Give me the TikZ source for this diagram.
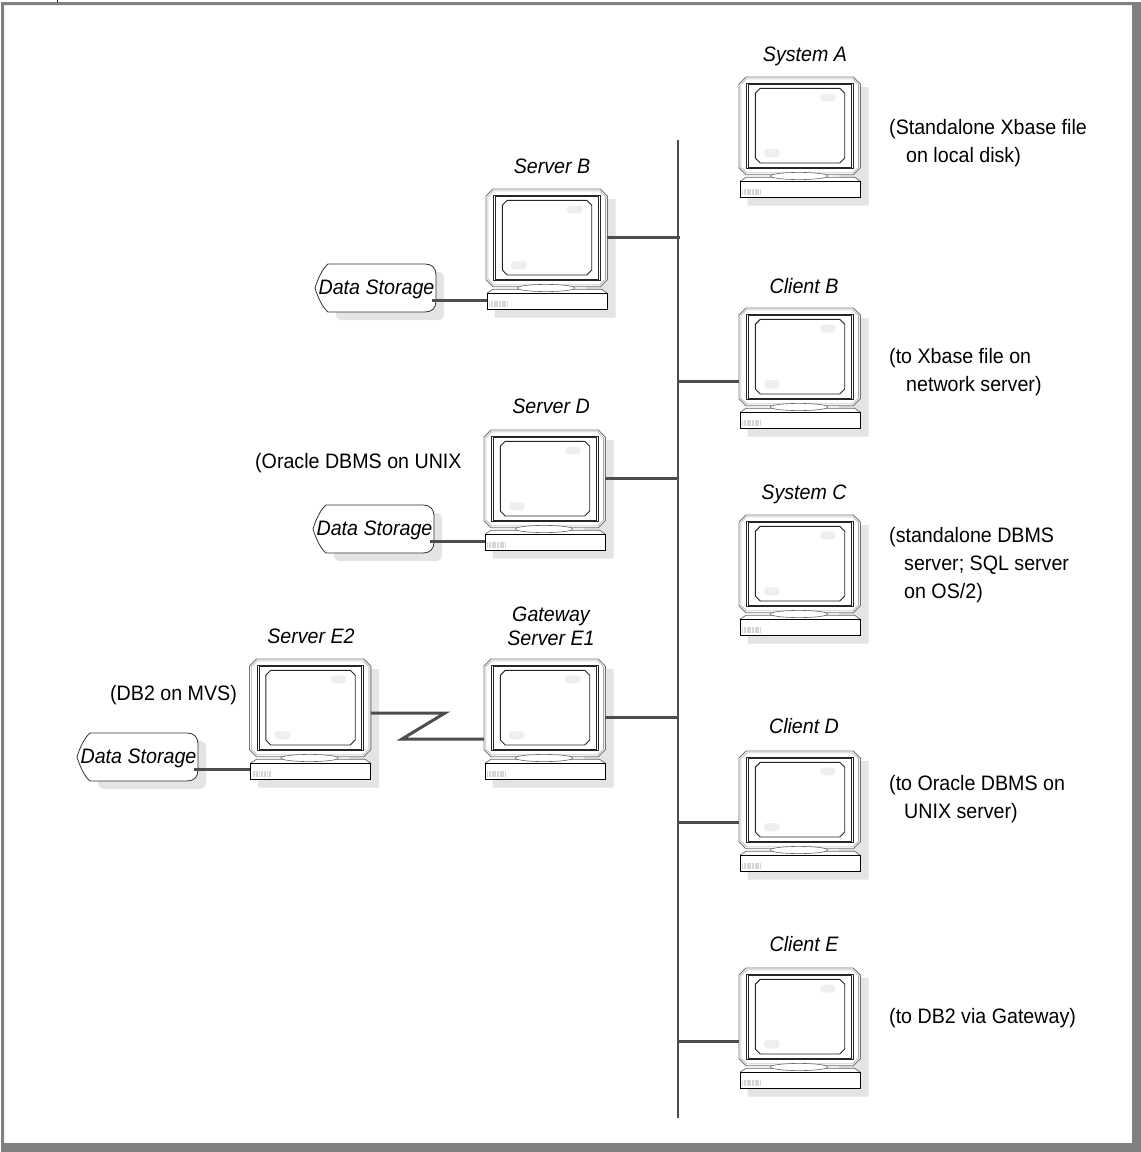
\documentclass[tikz,border=0pt]{standalone}
\usepackage{fontspec}
\setmainfont[FakeStretch=0.94]{Liberation Sans}
\definecolor{shadowc}{HTML}{E4E4E4}
\definecolor{pillc}{HTML}{EFEFEF}
\definecolor{linkc}{HTML}{4D4D4D}
\definecolor{framec}{HTML}{808080}
\tikzset{
  txt/.style={font=\fontsize{20.9}{28}\selectfont,inner sep=0pt,anchor=north west,align=left},
  namelabel/.style={font=\fontsize{20.9}{24}\selectfont\itshape,inner sep=0pt,anchor=base,align=center},
  linkline/.style={draw=linkc,line width=3pt},
  busline/.style={draw=linkc,line width=2.6pt},
  hit/.style={inner sep=0pt,minimum width=121pt,minimum height=98pt},
  hitbase/.style={inner sep=0pt,minimum width=120pt,minimum height=16pt},
  hitstore/.style={inner sep=0pt,minimum width=121pt,minimum height=48pt}
}
% name, x, y of the top left corner of the monitor
\newcommand{\computer}[3]{%
\begin{scope}[shift={(#2,#3)}]
  \fill[shadowc] (100,10) -- (129.7,10) -- (129.7,128.7) -- (8.7,128.7) -- (8.7,105) -- (100,105) -- cycle;
  \draw[black!55,fill=white,line width=.9pt] (7,0) -- (114.3,0) -- (121.3,7) -- (121.3,90.7) -- (114.3,97.7) -- (7,97.7) -- (0,90.7) -- (0,7) -- cycle;
  \draw[black!35,line width=.6pt] (7.7,1.8) -- (113.6,1.8) -- (119.5,7.7) -- (119.5,90) -- (113.6,95.9) -- (7.7,95.9) -- (1.8,90) -- (1.8,7.7) -- cycle;
  \draw[black!85,line width=.9pt] (7.7,6) rectangle (114,91.7);
  \draw[black!85,line width=.9pt] (9.7,7.7) rectangle (112.3,90);
  \draw[black!85,line width=.9pt] (21.3,11.3) -- (100.7,11.3) -- (105.7,16.3) -- (105.7,81) -- (100.7,86) -- (21.3,86) -- (16.3,81) -- (16.3,16.3) -- cycle;
  \fill[pillc,rounded corners=3.5pt] (81,16.7) rectangle (96.7,24.3);
  \fill[pillc,rounded corners=3.5pt] (25,72) rectangle (40.7,80.3);
  \draw[black!60,fill=white,line width=.7pt] (1,104.3) -- (7,100.3) -- (115.7,100.3) -- (121.3,104.3);
  \draw[black!60,fill=white,line width=.6pt] (60,99) ellipse [x radius=28.7,y radius=3.6];
  \draw[black,fill=white,line width=.9pt] (1,104.3) rectangle (121.3,120.3);
  \foreach \i in {3,4.6,...,21}{\fill[black!16] (\i,112) rectangle ++(1.1,6);}
  \node[hit] (#1) at (60.6,49) {};
  \node[hitbase] (#1base) at (61,112.3) {};
\end{scope}}
% name, x, y of the left tip of the storage shape
\newcommand{\storage}[3]{%
\begin{scope}[shift={(#2,#3)}]
  \fill[shadowc,rounded corners=5pt] (21,-16) -- (129,-16) -- (129,32) -- (21,32) -- cycle;
  \draw[black!80,fill=white,line width=.8pt] (13,-24) -- (110,-24) .. controls (117,-24) and (121,-20) .. (121,-13) -- (121,13) .. controls (121,20) and (117,24) .. (110,24) -- (13,24) .. controls (8,20) and (3,10) .. (0,0) .. controls (3,-10) and (8,-20) .. (13,-24) -- cycle;
  \node[hitstore] (#1) at (60.5,0) {};
  \node[font=\fontsize{20.9}{24}\selectfont\itshape,inner sep=0pt] (#1text) at (61.5,1) {Data Storage};
\end{scope}}
\begin{document}
\begin{tikzpicture}[x=1pt,y=-1pt]
\useasboundingbox (0,0) rectangle (1141,1152);
\fill[framec,even odd rule] (1,2) rectangle (1141,1152) (4,5) rectangle (1132,1143);
\fill[black] (56.5,0) rectangle (58,2);

\computer{sysa}{739}{77}
\computer{clb}{739}{308}
\computer{sysc}{739}{515}
\computer{cld}{739}{751}
\computer{cle}{739}{968}
\computer{srvb}{486}{189}
\computer{srvd}{484}{430}
\computer{gw}{484}{659}
\computer{srve}{249.5}{659}
\storage{dsb}{315}{288}
\storage{dsd}{313}{529}
\storage{dse}{77}{757}

% bus
\coordinate (bustop) at (678,140);
\coordinate (busbot) at (678,1118);
\draw[busline] (bustop) -- (busbot);
\coordinate (tb) at (680,237);
\coordinate (tcb) at (678,381);
\coordinate (td) at (678,478);
\coordinate (tg) at (678,717);
\coordinate (tcd) at (678,822);
\coordinate (tce) at (678,1041);
\draw[linkline] (srvb.east |- tb) -- (tb);
\draw[linkline] (tcb) -- (clb.west |- tcb);
\draw[linkline] (srvd.east |- td) -- (td);
\draw[linkline] (gw.east |- tg) -- (tg);
\draw[linkline] (tcd) -- (cld.west |- tcd);
\draw[linkline] (tce) -- (cle.west |- tce);
% storage links
\coordinate (sb) at (432,300);
\coordinate (sd) at (430,541);
\coordinate (se) at (194,769);
\draw[linkline] (sb) -- (srvbbase.west |- sb);
\draw[linkline] (sd) -- (srvdbase.west |- sd);
\draw[linkline] (se) -- (srvebase.west |- se);
% serial link
\coordinate (z1) at (445,713);
\coordinate (z2) at (402,739);
\draw[linkline] (srve.east |- z1) -- (z1) -- (z2) -- (gw.west |- z2);

% computer names
\node[namelabel] (nsysa) at (805,61) {System A};
\node[namelabel] (nclb) at (804,293) {Client B};
\node[namelabel] (nsysc) at (804,499) {System C};
\node[namelabel] (ncld) at (804,733) {Client D};
\node[namelabel] (ncle) at (804,951) {Client E};
\node[namelabel] (nsrvb) at (552,173) {Server B};
\node[namelabel] (nsrvd) at (551,413) {Server D};
\node[namelabel] (ngw1) at (551,621) {Gateway};
\node[namelabel] (ngw2) at (551,645) {Server E1};
\node[namelabel] (nsrve) at (311,643) {Server E2};

% remarks
\node[txt] (r1) at (889,119) {(Standalone Xbase file\\\hspace*{17pt}on local disk)};
\node[txt] (r2) at (889,348) {(to Xbase file on\\\hspace*{17pt}network server)};
\node[txt] (r3) at (889,527) {(standalone DBMS\\\hspace*{15pt}server; SQL server\\\hspace*{15pt}on OS/2)};
\node[txt] (r4) at (889,775) {(to Oracle DBMS on\\\hspace*{15pt}UNIX server)};
\node[txt] (r5) at (889,1008) {(to DB2 via Gateway)};
\node[txt] (r6) at (255,453) {(Oracle DBMS on UNIX};
\node[txt] (r7) at (110,685) {(DB2 on MVS)};
\end{tikzpicture}
\end{document}
